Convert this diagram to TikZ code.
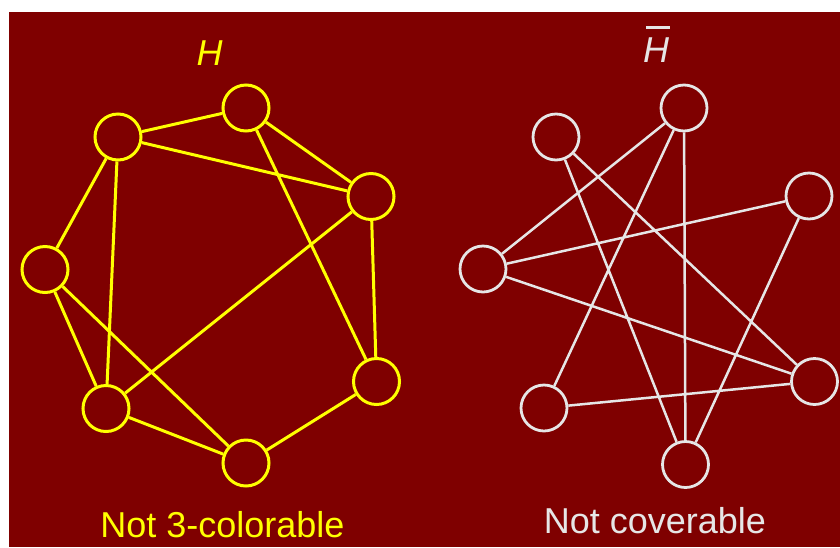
\documentclass[tikz,border=0pt]{standalone}
\usepackage{fontspec}
\setmainfont{Liberation Sans}
\definecolor{bgred}{HTML}{7F0000}
\definecolor{hyel}{HTML}{FFFF00}
\definecolor{hwhite}{HTML}{E6E6E6}
\begin{document}
\begin{tikzpicture}[x=1pt,y=-1pt,
  ynode/.style={circle,draw=hyel,line width=3pt,minimum size=46pt,inner sep=0pt},
  wnode/.style={circle,draw=hwhite,line width=2.8pt,minimum size=46pt,inner sep=0pt},
  yedge/.style={draw=hyel,line width=3pt},
  wedge/.style={draw=hwhite,line width=2.5pt},
  lbl/.style={anchor=base,inner sep=0pt,font=\fontsize{36}{40}\selectfont}]
\useasboundingbox (0,0) rectangle (840,547);
\fill[bgred] (9,12) rectangle (840,547);
% H
\node[ynode] (a) at (246,108) {};
\node[ynode] (b) at (118,137) {};
\node[ynode] (c) at (371,196.5) {};
\node[ynode] (d) at (45,269.5) {};
\node[ynode] (e) at (376.5,381.5) {};
\node[ynode] (f) at (106,408.5) {};
\node[ynode] (g) at (246,463) {};
\path[yedge] (b)--(a) (b)--(c) (a)--(c) (a)--(e) (c)--(e) (c)--(f)
  (b)--(d) (b)--(f) (d)--(f) (d)--(g) (f)--(g) (g)--(e);
% H bar
\node[wnode] (A) at (684,108) {};
\node[wnode] (B) at (556,137) {};
\node[wnode] (C) at (809,196) {};
\node[wnode] (D) at (483,269) {};
\node[wnode] (E) at (814.5,381.5) {};
\node[wnode] (F) at (544,408) {};
\node[wnode] (G) at (685.5,464.5) {};
\path[wedge] (A)--(D) (A)--(F) (A)--(G) (B)--(E) (B)--(G) (C)--(D) (C)--(G) (D)--(E) (E)--(F);
% labels
\node[lbl,text=hyel] (hl) at (209.5,65) {\itshape H};
\node[lbl,text=hwhite] (hbl) at (656,62) {\itshape\makebox[0pt][l]{\hspace{3pt}\rule[33pt]{24pt}{3pt}}H};
\node[lbl,text=hyel] (nl) at (222.5,537) {Not 3-colorable};
\node[lbl,text=hwhite] (nr) at (655,533) {Not coverable};
\end{tikzpicture}
\end{document}
